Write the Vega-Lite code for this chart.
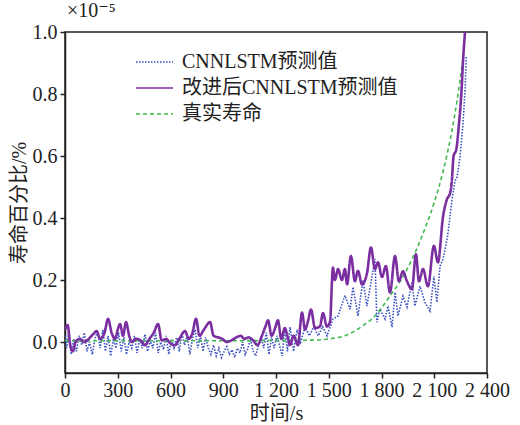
{
  "$schema": "https://vega.github.io/schema/vega-lite/v6.json",
  "autosize": "none",
  "width": 422,
  "height": 341,
  "padding": {"left": 65, "top": 32, "right": 33, "bottom": 52},
  "background": "white",
  "title": {
    "text": "×10⁻⁵",
    "anchor": "start",
    "frame": "group",
    "font": "Liberation Serif, Times New Roman, DejaVu Serif, serif",
    "fontSize": 20,
    "fontWeight": "normal",
    "color": "#222",
    "offset": 1,
    "dx": 2
  },
  "config": {
    "view": {"stroke": "#222", "strokeWidth": 1.5},
    "font": "Liberation Serif, Times New Roman, Noto Sans CJK SC, serif",
    "axis": {
      "grid": false,
      "domainColor": "#222",
      "domainWidth": 1.5,
      "tickColor": "#222",
      "tickWidth": 1.5,
      "tickSize": 5,
      "labelFont": "Liberation Serif, Times New Roman, DejaVu Serif, serif",
      "labelFontSize": 20,
      "labelColor": "#222",
      "labelOverlap": false,
      "labelFlush": false,
      "titleFont": "Liberation Serif, Times New Roman, Noto Sans CJK SC, serif",
      "titleFontSize": 20,
      "titleFontWeight": "normal",
      "titleColor": "#222"
    },
    "legend": {
      "labelFont": "Liberation Serif, Times New Roman, Noto Sans CJK SC, serif",
      "labelFontSize": 20,
      "labelColor": "#222",
      "labelLimit": 0,
      "symbolSize": 1369,
      "symbolType": "stroke",
      "labelOffset": 8
    }
  },
  "datasets": {
    "cnnlstm": [
      {"t": 0, "v": 0.02}, {"t": 10, "v": -0.02}, {"t": 20, "v": 0.03}, {"t": 35, "v": -0.04},
      {"t": 50, "v": 0.01}, {"t": 65, "v": -0.03}, {"t": 80, "v": 0.02}, {"t": 95, "v": -0.01},
      {"t": 110, "v": 0.03}, {"t": 125, "v": -0.03}, {"t": 140, "v": 0.0}, {"t": 155, "v": -0.04},
      {"t": 170, "v": 0.01}, {"t": 185, "v": 0.035}, {"t": 200, "v": -0.02}, {"t": 215, "v": 0.04},
      {"t": 230, "v": -0.03}, {"t": 245, "v": 0.02}, {"t": 260, "v": -0.045}, {"t": 275, "v": 0.01},
      {"t": 290, "v": -0.02}, {"t": 305, "v": 0.03}, {"t": 320, "v": -0.03}, {"t": 335, "v": 0.015},
      {"t": 350, "v": -0.04}, {"t": 365, "v": 0.0}, {"t": 380, "v": -0.02}, {"t": 395, "v": 0.02},
      {"t": 410, "v": -0.035}, {"t": 425, "v": 0.01}, {"t": 440, "v": -0.02}, {"t": 455, "v": 0.025},
      {"t": 470, "v": -0.03}, {"t": 485, "v": 0.005}, {"t": 500, "v": -0.02}, {"t": 515, "v": 0.03},
      {"t": 530, "v": -0.035}, {"t": 545, "v": 0.0}, {"t": 560, "v": -0.025}, {"t": 575, "v": 0.02},
      {"t": 590, "v": -0.04}, {"t": 605, "v": 0.01}, {"t": 620, "v": -0.02}, {"t": 635, "v": 0.015},
      {"t": 650, "v": -0.03}, {"t": 665, "v": 0.03}, {"t": 680, "v": -0.01}, {"t": 695, "v": 0.02},
      {"t": 710, "v": -0.04}, {"t": 725, "v": 0.01}, {"t": 740, "v": 0.04}, {"t": 755, "v": -0.02},
      {"t": 770, "v": 0.02}, {"t": 785, "v": -0.03}, {"t": 800, "v": 0.015}, {"t": 815, "v": -0.02},
      {"t": 830, "v": -0.04}, {"t": 845, "v": -0.01}, {"t": 860, "v": -0.045}, {"t": 875, "v": -0.02},
      {"t": 890, "v": -0.05}, {"t": 905, "v": -0.03}, {"t": 920, "v": -0.015}, {"t": 935, "v": -0.04},
      {"t": 950, "v": -0.025}, {"t": 965, "v": -0.05}, {"t": 980, "v": -0.02}, {"t": 995, "v": -0.035},
      {"t": 1010, "v": 0.0}, {"t": 1025, "v": -0.04}, {"t": 1040, "v": -0.02}, {"t": 1055, "v": 0.01},
      {"t": 1070, "v": -0.03}, {"t": 1085, "v": -0.045}, {"t": 1100, "v": -0.01}, {"t": 1115, "v": 0.02},
      {"t": 1130, "v": -0.02}, {"t": 1145, "v": 0.03}, {"t": 1160, "v": -0.04}, {"t": 1175, "v": 0.015},
      {"t": 1190, "v": -0.02}, {"t": 1205, "v": 0.02}, {"t": 1220, "v": -0.01}, {"t": 1235, "v": -0.045},
      {"t": 1250, "v": 0.045}, {"t": 1265, "v": -0.03}, {"t": 1280, "v": 0.048}, {"t": 1300, "v": -0.03},
      {"t": 1320, "v": 0.04}, {"t": 1340, "v": 0.0}, {"t": 1365, "v": 0.048}, {"t": 1390, "v": 0.02},
      {"t": 1415, "v": 0.05}, {"t": 1440, "v": 0.02}, {"t": 1465, "v": 0.05}, {"t": 1490, "v": 0.02},
      {"t": 1524, "v": 0.074}, {"t": 1553, "v": 0.084}, {"t": 1592, "v": 0.15}, {"t": 1621, "v": 0.106},
      {"t": 1638, "v": 0.177}, {"t": 1666, "v": 0.084}, {"t": 1695, "v": 0.2}, {"t": 1717, "v": 0.116},
      {"t": 1763, "v": 0.267}, {"t": 1774, "v": 0.064}, {"t": 1791, "v": 0.106}, {"t": 1820, "v": 0.074},
      {"t": 1837, "v": 0.116}, {"t": 1860, "v": 0.048}, {"t": 1877, "v": 0.16}, {"t": 1894, "v": 0.084},
      {"t": 1922, "v": 0.148}, {"t": 1945, "v": 0.113}, {"t": 1973, "v": 0.193}, {"t": 1990, "v": 0.116},
      {"t": 2019, "v": 0.18}, {"t": 2047, "v": 0.128}, {"t": 2076, "v": 0.1}, {"t": 2098, "v": 0.212},
      {"t": 2115, "v": 0.128}, {"t": 2133, "v": 0.245}, {"t": 2150, "v": 0.267}, {"t": 2172, "v": 0.33},
      {"t": 2178, "v": 0.35}, {"t": 2201, "v": 0.46}, {"t": 2218, "v": 0.52}, {"t": 2229, "v": 0.53},
      {"t": 2246, "v": 0.595}, {"t": 2263, "v": 0.7}, {"t": 2275, "v": 0.81}, {"t": 2282, "v": 0.92}
    ],
    "improved": [
      {"t": 0, "v": 0.04}, {"t": 15, "v": 0.055}, {"t": 30, "v": -0.01}, {"t": 45, "v": -0.03},
      {"t": 60, "v": 0.0}, {"t": 85, "v": 0.01}, {"t": 110, "v": 0.0}, {"t": 135, "v": 0.01},
      {"t": 160, "v": 0.025}, {"t": 180, "v": 0.035}, {"t": 200, "v": 0.01}, {"t": 225, "v": 0.03},
      {"t": 245, "v": 0.075}, {"t": 265, "v": 0.03}, {"t": 285, "v": 0.01}, {"t": 300, "v": 0.04},
      {"t": 313, "v": 0.058}, {"t": 330, "v": 0.02}, {"t": 347, "v": 0.064}, {"t": 365, "v": 0.02},
      {"t": 380, "v": 0.0}, {"t": 405, "v": 0.01}, {"t": 430, "v": 0.005}, {"t": 455, "v": -0.01},
      {"t": 480, "v": 0.01}, {"t": 505, "v": 0.03}, {"t": 529, "v": 0.058}, {"t": 550, "v": 0.005},
      {"t": 575, "v": 0.01}, {"t": 600, "v": -0.005}, {"t": 625, "v": -0.01}, {"t": 650, "v": 0.01},
      {"t": 682, "v": 0.035}, {"t": 705, "v": 0.01}, {"t": 725, "v": 0.03}, {"t": 745, "v": 0.075},
      {"t": 765, "v": 0.02}, {"t": 790, "v": 0.04}, {"t": 825, "v": 0.064}, {"t": 845, "v": 0.02},
      {"t": 870, "v": 0.015}, {"t": 895, "v": 0.01}, {"t": 920, "v": 0.0}, {"t": 945, "v": 0.005},
      {"t": 975, "v": 0.015}, {"t": 1000, "v": 0.02}, {"t": 1020, "v": 0.01}, {"t": 1045, "v": 0.015},
      {"t": 1070, "v": 0.005}, {"t": 1095, "v": -0.01}, {"t": 1120, "v": 0.02}, {"t": 1140, "v": 0.05},
      {"t": 1155, "v": 0.07}, {"t": 1175, "v": 0.02}, {"t": 1195, "v": 0.045}, {"t": 1211, "v": 0.07},
      {"t": 1230, "v": 0.01}, {"t": 1250, "v": 0.045}, {"t": 1265, "v": 0.02}, {"t": 1280, "v": -0.01},
      {"t": 1300, "v": 0.02}, {"t": 1325, "v": -0.01}, {"t": 1348, "v": 0.095}, {"t": 1365, "v": 0.04},
      {"t": 1383, "v": 0.07}, {"t": 1399, "v": 0.105}, {"t": 1422, "v": 0.045}, {"t": 1450, "v": 0.05},
      {"t": 1467, "v": 0.093}, {"t": 1490, "v": 0.05}, {"t": 1507, "v": 0.065}, {"t": 1524, "v": 0.24},
      {"t": 1535, "v": 0.2}, {"t": 1553, "v": 0.235}, {"t": 1575, "v": 0.2}, {"t": 1592, "v": 0.235},
      {"t": 1604, "v": 0.186}, {"t": 1626, "v": 0.277}, {"t": 1649, "v": 0.196}, {"t": 1666, "v": 0.23},
      {"t": 1689, "v": 0.186}, {"t": 1717, "v": 0.22}, {"t": 1740, "v": 0.305}, {"t": 1763, "v": 0.235},
      {"t": 1780, "v": 0.257}, {"t": 1803, "v": 0.21}, {"t": 1825, "v": 0.245}, {"t": 1848, "v": 0.16},
      {"t": 1877, "v": 0.277}, {"t": 1899, "v": 0.196}, {"t": 1922, "v": 0.228}, {"t": 1945, "v": 0.196},
      {"t": 1973, "v": 0.17}, {"t": 1996, "v": 0.283}, {"t": 2013, "v": 0.196}, {"t": 2036, "v": 0.235},
      {"t": 2064, "v": 0.18}, {"t": 2098, "v": 0.31}, {"t": 2121, "v": 0.257}, {"t": 2150, "v": 0.405},
      {"t": 2172, "v": 0.46}, {"t": 2190, "v": 0.48}, {"t": 2200, "v": 0.52}, {"t": 2210, "v": 0.6},
      {"t": 2225, "v": 0.62}, {"t": 2240, "v": 0.7}, {"t": 2255, "v": 0.81}, {"t": 2265, "v": 0.92},
      {"t": 2275, "v": 1.0}
    ],
    "real": [
      {"t": 0, "v": 0.004}, {"t": 300, "v": 0.004}, {"t": 600, "v": 0.004}, {"t": 900, "v": 0.004},
      {"t": 1200, "v": 0.005}, {"t": 1400, "v": 0.006}, {"t": 1500, "v": 0.01}, {"t": 1600, "v": 0.022},
      {"t": 1700, "v": 0.055}, {"t": 1750, "v": 0.077}, {"t": 1800, "v": 0.11}, {"t": 1850, "v": 0.15},
      {"t": 1900, "v": 0.19}, {"t": 1950, "v": 0.24}, {"t": 2000, "v": 0.3}, {"t": 2050, "v": 0.37},
      {"t": 2100, "v": 0.45}, {"t": 2150, "v": 0.55}, {"t": 2200, "v": 0.68}, {"t": 2230, "v": 0.78},
      {"t": 2260, "v": 0.9}, {"t": 2275, "v": 0.97}
    ]
  },
  "encoding": {
    "x": {
      "field": "t",
      "type": "quantitative",
      "title": "时间/s",
      "scale": {"domain": [0, 2400], "nice": false, "zero": false},
      "axis": {
        "values": [0, 300, 600, 900, 1200, 1500, 1800, 2100, 2400],
        "labelExpr": "replace(format(datum.value, ','), ',', ' ')",
        "labelPadding": 2,
        "titlePadding": 3
      }
    },
    "y": {
      "field": "v",
      "type": "quantitative",
      "title": "寿命百分比/%",
      "scale": {"domain": [-0.1, 1.0], "nice": false, "zero": false},
      "axis": {
        "values": [0, 0.2, 0.4, 0.6, 0.8, 1.0],
        "format": ".1f",
        "labelPadding": 3,
        "titlePadding": 3
      }
    }
  },
  "layer": [
    {
      "data": {"name": "cnnlstm"},
      "mark": {"type": "line", "strokeWidth": 1.6, "clip": true},
      "encoding": {
        "color": {"datum": "CNNLSTM预测值"},
        "strokeDash": {"datum": "CNNLSTM预测值"}
      }
    },
    {
      "data": {"name": "real"},
      "mark": {"type": "line", "strokeWidth": 1.6, "clip": true, "interpolate": "monotone"},
      "encoding": {
        "color": {"datum": "真实寿命"},
        "strokeDash": {"datum": "真实寿命"}
      }
    },
    {
      "data": {"name": "improved"},
      "mark": {"type": "line", "strokeWidth": 2.6, "clip": true, "interpolate": "monotone"},
      "encoding": {
        "color": {
          "datum": "改进后CNNLSTM预测值",
          "title": null,
          "scale": {
            "domain": ["CNNLSTM预测值", "改进后CNNLSTM预测值", "真实寿命"],
            "range": ["#3a4fbf", "#7a2ea0", "#3fb850"]
          },
          "legend": {
            "orient": "none",
            "legendX": 70,
            "legendY": 18,
            "direction": "vertical",
            "clipHeight": 24,
            "rowPadding": 2
          }
        },
        "strokeDash": {
          "datum": "改进后CNNLSTM预测值",
          "title": null,
          "scale": {
            "domain": ["CNNLSTM预测值", "改进后CNNLSTM预测值", "真实寿命"],
            "range": [[1.5, 1.5], [1, 0], [4, 3]]
          }
        }
      }
    }
  ]
}
